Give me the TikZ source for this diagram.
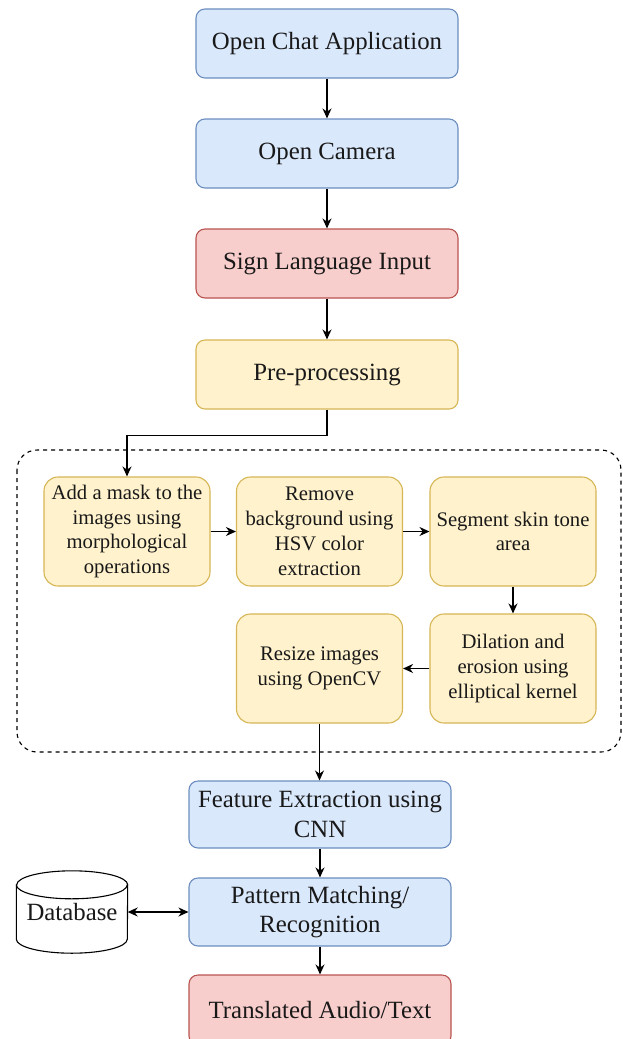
\documentclass[tikz,border=0pt]{standalone}
\usepackage{fontspec}
\setmainfont{Liberation Serif}
\usetikzlibrary{arrows.meta}
\definecolor{bluefill}{HTML}{DAE8FC}
\definecolor{blueline}{HTML}{6C8EBF}
\definecolor{redfill}{HTML}{F8CECC}
\definecolor{redline}{HTML}{B85450}
\definecolor{yellowfill}{HTML}{FFF2CC}
\definecolor{yellowline}{HTML}{D6B656}
\begin{document}
\begin{tikzpicture}[x=1pt, y=-1pt, >={Stealth[length=10pt,width=9pt]},
  box/.style={rounded corners=9pt, line width=1.1pt, align=center, text=black!90},
  mainbox/.style={box, minimum width=262pt, minimum height=69pt, font=\fontsize{24.8}{29.8}\selectfont},
  bluebox/.style={mainbox, draw=blueline, fill=bluefill},
  redbox/.style={mainbox, draw=redline, fill=redfill},
  yellowbox/.style={mainbox, draw=yellowline, fill=yellowfill},
  subbox/.style={box, draw=yellowline, fill=yellowfill, rounded corners=14pt, minimum width=166pt, minimum height=109pt, font=\fontsize{20.7}{24.8}\selectfont},
  flow/.style={->, line width=1.3pt}]
\useasboundingbox (0,0) rectangle (622,1039);
% main column
\node[bluebox] (chat) at (327,43.5) {Open Chat Application};
\node[bluebox] (camera) at (327,153.5) {Open Camera};
\node[redbox] (sign) at (327,263.5) {Sign Language Input};
\node[yellowbox] (pre) at (327,374.5) {Pre-processing};
% pre-processing group
\draw[dashed, dash pattern=on 4pt off 4pt, rounded corners=20pt, line width=1.1pt] (17,450) rectangle (621,752);
\node[subbox] (mask) at (127,531.5) {Add a mask to the\\images using\\morphological\\operations};
\node[subbox] (remove) at (319.5,531.5) {Remove\\background using\\HSV color\\extraction};
\node[subbox] (segment) at (513,531.5) {Segment skin tone\\area};
\node[subbox] (dilate) at (513,668.5) {Dilation and\\erosion using\\elliptical kernel};
\node[subbox] (resize) at (319.5,668.5) {Resize images\\using OpenCV};
% recognition
\node[bluebox, minimum height=67pt] (feature) at (320,814.5) {Feature Extraction using\\CNN};
\node[bluebox, minimum height=68pt] (pattern) at (320,912) {Pattern Matching/\\Recognition};
\node[redbox, minimum height=70pt] (translated) at (320,1010) {Translated Audio/Text};
\node[minimum width=111pt, minimum height=82pt, font=\fontsize{24.8}{29.8}\selectfont] (db) at (72,912) {};
\draw[line width=1.1pt, fill=white] ([yshift=-14pt]db.north west) -- ([yshift=14pt]db.south west)
  arc[start angle=180, end angle=360, x radius=55.5pt, y radius=14pt]
  -- ([yshift=-14pt]db.north east)
  arc[start angle=0, end angle=180, x radius=55.5pt, y radius=14pt] -- cycle;
\draw[line width=1.1pt] ([yshift=-14pt]db.north west)
  arc[start angle=180, end angle=360, x radius=55.5pt, y radius=14pt];
\node[font=\fontsize{24.8}{29.8}\selectfont, text=black!90] (dblabel) at (db.center) {Database};
% connectors
\draw[flow] (chat) -- (camera);
\draw[flow] (camera) -- (sign);
\draw[flow] (sign) -- (pre);
\draw[flow] (pre.south) -- ++(0,26) -| (mask.north);
\draw[flow] (mask) -- (remove);
\draw[flow] (remove) -- (segment);
\draw[flow] (segment) -- (dilate);
\draw[flow] (dilate) -- (resize);
\draw[flow] (resize.south) -- (resize.south |- feature.north);
\draw[flow] (feature) -- (pattern);
\draw[flow] (pattern) -- (translated);
\draw[flow, <->] (db.east) -- (pattern.west);
\end{tikzpicture}
\end{document}
